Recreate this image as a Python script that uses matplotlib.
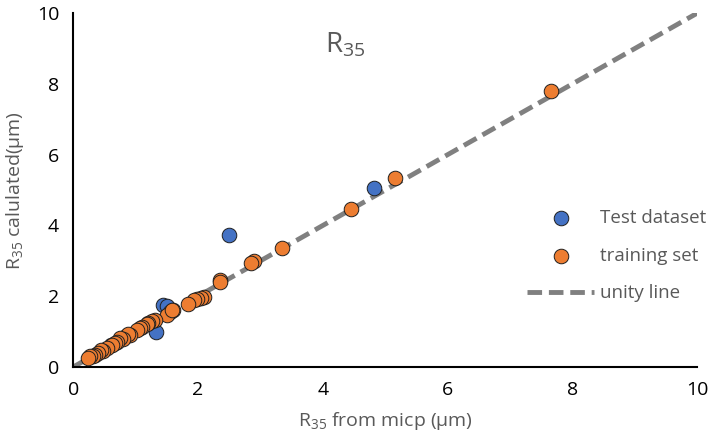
import matplotlib.pyplot as plt

plt.rcParams['font.family'] = ['Open Sans', 'DejaVu Sans']
plt.rcParams['mathtext.default'] = 'regular'

# test dataset (blue)
test_x = [4.82, 2.50, 1.44, 1.50, 1.33, 0.85, 0.60]
test_y = [5.06, 3.73, 1.75, 1.72, 0.98, 0.88, 0.62]

# training set (orange)
train_x = [7.65, 5.15, 4.45, 3.35, 2.90, 2.85, 2.36, 2.36, 2.10, 2.05, 1.98, 1.93, 1.84,
           1.60, 1.55, 1.50, 1.59, 1.31, 1.27, 1.20, 1.19, 1.10, 1.07, 1.02, 0.91, 0.88,
           0.80, 0.75, 0.70, 0.67, 0.62, 0.55, 0.48, 0.45, 0.40, 0.35, 0.32, 0.27, 0.24]
train_y = [7.80, 5.34, 4.46, 3.36, 3.00, 2.94, 2.46, 2.40, 1.98, 1.95, 1.93, 1.89, 1.78,
           1.60, 1.55, 1.47, 1.61, 1.33, 1.30, 1.24, 1.22, 1.13, 1.10, 1.05, 0.90, 0.93,
           0.78, 0.82, 0.72, 0.68, 0.62, 0.55, 0.44, 0.47, 0.40, 0.34, 0.30, 0.30, 0.26]

unity = [0, 10]

fig, ax = plt.subplots(figsize=(7.1, 4.38), dpi=100)
fig.subplots_adjust(left=0.103, right=0.982, top=0.970, bottom=0.162)

ax.plot(unity, unity, color='#808080', lw=3.5, dashes=(3, 1.4), label='unity line', zorder=1)
ax.scatter(test_x, test_y, s=110, color='#4472C4', edgecolor='#1f1f1f', linewidth=0.7,
           label='Test dataset', zorder=2)
ax.scatter(train_x, train_y, s=110, color='#ED7D31', edgecolor='#1f1f1f', linewidth=0.7,
           label='training set', zorder=3)

ax.set_xlim(0, 10)
ax.set_ylim(0, 10)
ax.set_xticks(range(0, 11, 2))
ax.set_yticks(range(0, 11, 2))
ax.tick_params(length=0, labelsize=14, pad=10)
for s in ['top', 'right']:
    ax.spines[s].set_visible(False)
for s in ['left', 'bottom']:
    ax.spines[s].set_linewidth(1.5)

ax.set_xlabel(r'R$_{35}$ from micp (µm)', fontsize=14, color='#595959', labelpad=8)
ax.set_ylabel(r'R$_{35}$ calulated(µm)', fontsize=14, color='#595959', labelpad=8)
ax.text(4.36, 9.1, r'R$_{35}$', fontsize=20, color='#595959', ha='center', va='center')

h, l = ax.get_legend_handles_labels()
order = [1, 2, 0]
ax.legend([h[i] for i in order], [l[i] for i in order], frameon=False, fontsize=13.5,
          labelcolor='#595959', loc='center left', bbox_to_anchor=(0.70, 0.315),
          handlelength=3.6, handletextpad=0.3, labelspacing=1.05)

fig.savefig('out.png')
